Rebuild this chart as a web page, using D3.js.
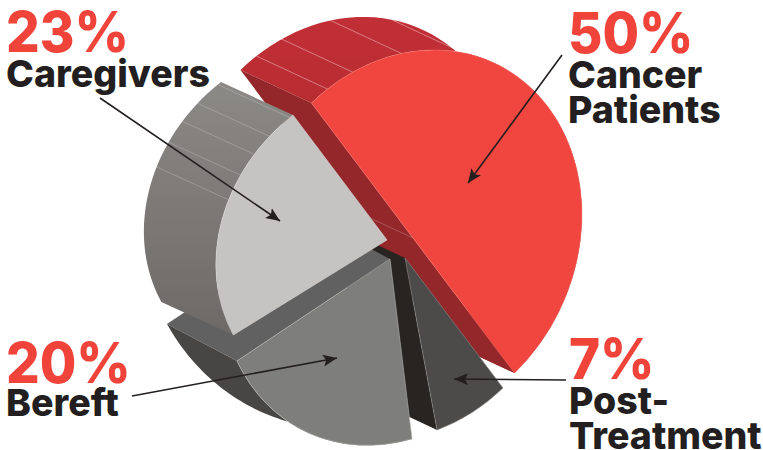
<!DOCTYPE html>
<html>
<head>
<meta charset="utf-8">
<script src="https://d3js.org/d3.v7.min.js"></script>
<style>
  html, body { margin: 0; padding: 0; background: #fff; }
  svg { display: block; }
  text { font-family: Inter, "Liberation Sans", sans-serif; font-weight: 800; }
</style>
</head>
<body>
<div id="chart"></div>
<script>
// values in drawing order, clockwise from the long straight edge
let categories = ["Cancer Patients", "Post-Treatment", "Bereft", "Caregivers"];
let shares = [50, 7, 20, 23];

let labelLines = [["Cancer", "Patients"], ["Post-", "Treatment"], ["Bereft"], ["Caregivers"]];

// each wedge gets its own oblique view: apex, image of the x and y unit vectors
let frames = [
    { apex: [413, 238], mx: [135, -131], my: [101.5, 135] },
    { apex: [405, 258], mx: [133, -127.6], my: [98, 130] },
    { apex: [390, 259], mx: [142.7, -120.7], my: [91.5, 142] },
    { apex: [387, 240], mx: [143, -111.5], my: [94, 125] }
];
let depth = [[-71, -33], [-70, -33], [-70, -37], [-72, -33]];
// the bereft wall gets narrower towards its far end
let rimDepthStart = [null, null, [-39, -12], null];

let faceColours = ["#f1453f", "#4c4b49", "#7e7f7d", "#c5c4c2"];

// degrees around the rim where the thin facet lines sit
let redFacets = [6.5, 16, 33, 54];
let greyFacets = [325.6, 334.5, 342.5, 350, 358.7];

// where text and arrows go
let percentPos = [[568, 53], [569, 379], [6, 383], [6, 52]];
let namePos = [[568, 88], [569, 414], [6, 416], [6, 87]];
let arrowsFrom = [[562, 55], [566, 380], [132, 396], [100, 98]];
let arrowsTo = [[468, 183], [454, 379], [337, 358], [280, 221]];

const width = 763, height = 450, R = 100;

let svg = d3.select("#chart").append("svg").attr("width", width).attr("height", height);
let defs = svg.append("defs");

let addGradient = (id, y1, y2, c1, c2) => {
    let g = defs.append("linearGradient").attr("id", id)
        .attr("gradientUnits", "userSpaceOnUse")
        .attr("x1", 0).attr("x2", 0).attr("y1", y1).attr("y2", y2);
    g.append("stop").attr("offset", 0).attr("stop-color", c1);
    g.append("stop").attr("offset", 1).attr("stop-color", c2);
};
addGradient("greyWall", 80, 330, "#8c8a87", "#6d6a68");
addGradient("redWall", 15, 110, "#c22f36", "#b72c31");

defs.append("marker").attr("id", "head")
    .attr("viewBox", "0 0 14 12").attr("refX", 14).attr("refY", 6)
    .attr("markerUnits", "userSpaceOnUse")
    .attr("markerWidth", 14).attr("markerHeight", 12).attr("orient", "auto")
    .append("path").attr("d", "M0,0L14,6L0,12L3,6Z").attr("fill", "#231f20");

let wedges = d3.pie().sort(null).value(d => d)(shares);
let arc = d3.arc().innerRadius(0).outerRadius(R);
let poly = d3.line();

// rim point of wedge i at angle a (radians)
let rim = (i, a) => {
    let f = frames[i];
    return [
        f.apex[0] + Math.sin(a) * f.mx[0] - Math.cos(a) * f.my[0],
        f.apex[1] + Math.sin(a) * f.mx[1] - Math.cos(a) * f.my[1]
    ];
};
let back = (i, p) => [p[0] + depth[i][0], p[1] + depth[i][1]];

let drawFace = (i, edge) => {
    let f = frames[i];
    svg.append("path")
        .attr("d", arc(wedges[i]))
        .attr("transform", `matrix(${f.mx[0] / R},${f.mx[1] / R},${f.my[0] / R},${f.my[1] / R},${f.apex[0]},${f.apex[1]})`)
        .attr("fill", faceColours[i])
        .attr("stroke", edge)
        .attr("stroke-width", 0.6)
        .attr("vector-effect", "non-scaling-stroke");
};

let drawRimWall = (i, fill) => {
    let w = wedges[i];
    let steps = d3.range(0, 61).map(k => k / 60);
    let startDepth = rimDepthStart[i] || depth[i];
    let front = steps.map(t => rim(i, w.startAngle + (w.endAngle - w.startAngle) * t));
    let rear = steps.map((t, k) => [
        front[k][0] + d3.interpolateNumber(startDepth[0], depth[i][0])(t),
        front[k][1] + d3.interpolateNumber(startDepth[1], depth[i][1])(t)
    ]);
    let pts = front.concat(rear.reverse());
    svg.append("path").attr("d", poly(pts) + "Z").attr("fill", fill);
};

let drawEdgeWall = (i, p0, p1, fill) => {
    svg.append("path")
        .attr("d", poly([p0, p1, back(i, p1), back(i, p0)]) + "Z")
        .attr("fill", fill);
};

let drawFacets = (i, list, colour) => {
    list.forEach(deg => {
        let p = rim(i, deg * Math.PI / 180);
        svg.append("path").attr("d", poly([p, back(i, p)]))
            .attr("stroke", colour).attr("stroke-width", 0.7).attr("fill", "none");
    });
};

// back to front
drawRimWall(0, "url(#redWall)");
drawFacets(0, redFacets, "rgba(255,255,255,0.55)");
drawEdgeWall(0, rim(0, 0), rim(0, Math.PI), "#94272a");
svg.append("path").attr("d", poly([frames[0].apex, back(0, frames[0].apex)]))
    .attr("stroke", "rgba(255,255,255,0.35)").attr("stroke-width", 0.6);

drawEdgeWall(1, frames[1].apex, rim(1, wedges[1].endAngle), "#272421");
drawFace(1, "#8a8987");

drawEdgeWall(2, frames[2].apex, rim(2, wedges[2].endAngle), "#616161");
drawRimWall(2, "#474644");
drawFace(2, "#b5b5b3");

drawRimWall(3, "url(#greyWall)");
drawFacets(3, greyFacets, "rgba(255,255,255,0.3)");
drawFace(3, "#d5d4d2");

drawFace(0, "#f26a63");

// arrows
arrowsFrom.forEach((p, i) => {
    svg.append("line")
        .attr("x1", p[0]).attr("y1", p[1])
        .attr("x2", arrowsTo[i][0]).attr("y2", arrowsTo[i][1])
        .attr("stroke", "#231f20").attr("stroke-width", 1.6)
        .attr("marker-end", "url(#head)");
});

// labels
categories.forEach((c, i) => {
    let [x, y] = percentPos[i];
    svg.append("text")
        .attr("transform", `translate(${x},${y}) scale(0.945,1)`)
        .attr("font-size", 56).attr("fill", "#f0433a").text(shares[i] + "%");
    labelLines[i].forEach((line, k) => {
        svg.append("text").attr("x", namePos[i][0]).attr("y", namePos[i][1] + k * 35)
            .attr("font-size", 37.5).attr("fill", "#231f20").text(line);
    });
});
</script>
</body>
</html>
